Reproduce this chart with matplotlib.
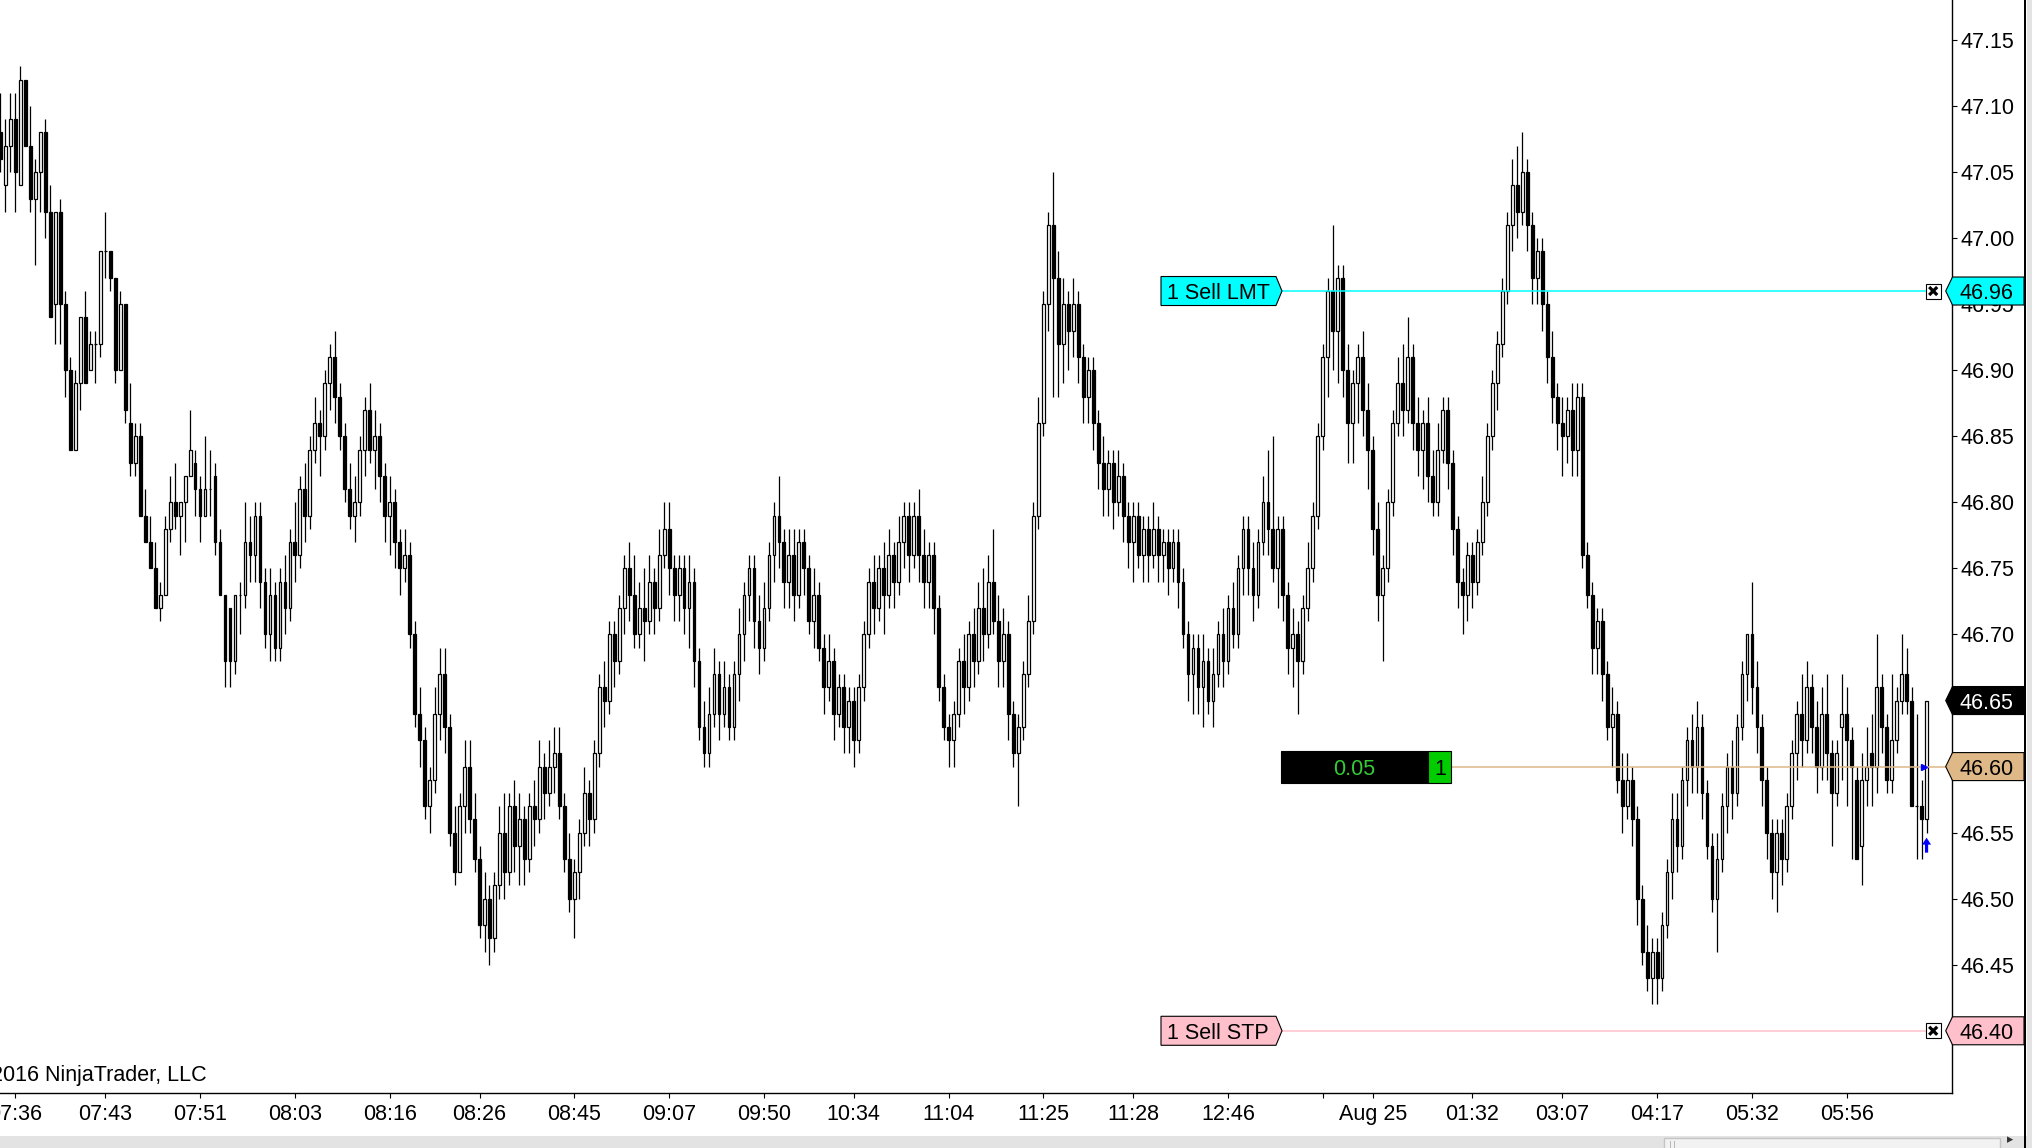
import numpy as np
import matplotlib
matplotlib.use('Agg')
import matplotlib.pyplot as plt
from matplotlib.patches import Polygon, Rectangle
from matplotlib.transforms import blended_transform_factory

plt.rcParams['font.family'] = ['Liberation Sans', 'DejaVu Sans']

# OHLC in cents above 46.00, one entry per bar
BASE = 46.00
open_c = [
    108, 104, 107, 109, 104, 112, 107, 103, 105, 108, 102, 95, 102, 95, 90, 84, 89, 94, 90, 92,
    92, 99, 99, 97, 90, 95, 86, 83, 85, 79, 77, 75, 72, 73, 78, 80, 79, 80, 82, 83,
    81, 79, 81, 82, 77, 73, 72, 68, 73, 73, 77, 76, 79, 74, 70, 73, 69, 74, 72, 77,
    76, 81, 79, 84, 86, 85, 89, 91, 88, 85, 81, 79, 80, 84, 87, 84, 85, 82, 79, 80,
    77, 75, 76, 70, 64, 62, 57, 59, 64, 67, 63, 55, 52, 57, 60, 56, 53, 48, 50, 47,
    51, 55, 52, 57, 54, 56, 53, 57, 56, 60, 58, 60, 61, 57, 53, 50, 52, 55, 58, 56,
    61, 66, 65, 70, 68, 72, 75, 73, 70, 72, 71, 74, 72, 76, 78, 75, 73, 75, 72, 74,
    68, 63, 61, 64, 67, 64, 66, 63, 67, 70, 73, 75, 71, 69, 72, 76, 79, 77, 74, 76,
    73, 77, 75, 71, 73, 69, 66, 68, 64, 66, 63, 65, 62, 66, 70, 74, 72, 75, 73, 76,
    74, 77, 79, 76, 79, 76, 74, 76, 72, 66, 63, 62, 64, 68, 66, 70, 68, 72, 70, 74,
    71, 68, 70, 64, 61, 63, 67, 71, 79, 86, 95, 101, 97, 92, 95, 93, 95, 91, 88, 90,
    86, 83, 81, 83, 80, 82, 79, 77, 79, 76, 78, 76, 78, 76, 77, 75, 77, 74, 70, 67,
    69, 66, 68, 65, 67, 70, 68, 72, 70, 75, 78, 75, 73, 77, 80, 78, 75, 78, 73, 69,
    70, 68, 72, 75, 79, 85, 91, 96, 93, 97, 90, 86, 89, 91, 87, 84, 78, 73, 75, 80,
    86, 89, 87, 91, 86, 84, 86, 82, 80, 84, 87, 83, 78, 74, 73, 76, 74, 77, 80, 85,
    89, 92, 96, 101, 104, 102, 105, 101, 97, 99, 95, 91, 88, 86, 85, 87, 84, 88, 76, 73,
    69, 71, 67, 63, 64, 59, 57, 59, 56, 50, 46, 44, 46, 44, 48, 52, 56, 54, 59, 62,
    60, 63, 58, 54, 50, 53, 57, 60, 58, 63, 67, 70, 66, 63, 59, 55, 52, 55, 53, 57,
    61, 64, 62, 66, 63, 60, 64, 61, 58, 63, 64, 62, 59, 54, 59, 61, 60, 66, 63, 59,
    62, 65, 67, 65, 57, 57, 56,
]
high_c = [
    111, 109, 111, 111, 113, 112, 110, 106, 108, 109, 104, 102, 103, 96, 91, 90, 94, 96, 93, 93,
    99, 102, 99, 97, 96, 95, 89, 86, 86, 81, 79, 77, 74, 79, 82, 83, 80, 82, 87, 84,
    82, 85, 84, 83, 78, 73, 72, 73, 74, 80, 79, 80, 80, 75, 75, 74, 75, 76, 78, 80,
    82, 83, 85, 88, 87, 90, 92, 93, 89, 86, 83, 82, 85, 88, 89, 87, 86, 83, 82, 81,
    78, 78, 77, 71, 66, 63, 60, 66, 69, 69, 64, 57, 58, 62, 62, 58, 54, 52, 51, 52,
    57, 58, 58, 59, 58, 57, 58, 59, 62, 61, 62, 63, 63, 58, 55, 53, 56, 60, 59, 62,
    67, 68, 71, 71, 73, 76, 77, 76, 74, 75, 76, 75, 78, 80, 80, 76, 76, 76, 76, 75,
    69, 65, 66, 69, 68, 68, 67, 68, 72, 74, 76, 76, 73, 74, 77, 80, 82, 78, 78, 78,
    78, 78, 76, 75, 74, 70, 70, 69, 67, 67, 66, 66, 67, 71, 75, 76, 76, 77, 78, 77,
    79, 80, 80, 80, 81, 78, 77, 77, 73, 67, 64, 65, 69, 70, 71, 72, 74, 75, 76, 78,
    73, 72, 71, 65, 64, 68, 73, 80, 88, 96, 102, 105, 99, 97, 96, 97, 96, 92, 91, 91,
    87, 85, 84, 84, 84, 83, 80, 80, 80, 79, 79, 80, 79, 78, 78, 78, 78, 75, 71, 70,
    70, 70, 69, 69, 71, 72, 73, 74, 76, 79, 79, 77, 78, 82, 84, 85, 79, 79, 74, 72,
    71, 73, 77, 80, 86, 92, 97, 101, 98, 98, 92, 90, 92, 93, 89, 85, 80, 76, 81, 87,
    91, 92, 94, 92, 88, 87, 88, 84, 86, 88, 88, 84, 79, 75, 77, 77, 78, 82, 86, 90,
    93, 97, 102, 106, 107, 108, 106, 102, 100, 100, 96, 93, 89, 88, 88, 89, 89, 89, 77, 74,
    72, 72, 68, 66, 65, 61, 61, 60, 57, 51, 48, 47, 47, 49, 53, 58, 58, 60, 63, 64,
    65, 64, 59, 55, 55, 58, 61, 62, 64, 68, 70, 74, 68, 64, 60, 56, 56, 56, 58, 62,
    65, 67, 68, 67, 65, 66, 67, 62, 62, 67, 66, 63, 60, 61, 63, 64, 70, 67, 64, 67,
    66, 70, 69, 66, 64, 59, 65,
]
low_c = [
    105, 102, 105, 102, 104, 107, 102, 98, 102, 100, 94, 92, 92, 88, 84, 84, 87, 89, 90, 89,
    91, 97, 96, 89, 90, 86, 82, 82, 79, 77, 75, 72, 71, 73, 77, 78, 76, 77, 82, 79,
    77, 79, 79, 76, 73, 66, 66, 67, 70, 72, 74, 74, 72, 69, 68, 68, 68, 70, 71, 74,
    75, 77, 78, 83, 82, 84, 87, 86, 84, 80, 78, 77, 79, 82, 83, 81, 80, 77, 76, 75,
    73, 74, 69, 63, 60, 56, 55, 58, 62, 61, 54, 51, 52, 55, 55, 52, 47, 46, 45, 46,
    50, 50, 51, 52, 51, 51, 52, 54, 55, 56, 57, 58, 56, 52, 49, 47, 50, 54, 54, 55,
    60, 63, 64, 66, 67, 70, 71, 69, 69, 68, 70, 70, 71, 75, 73, 71, 71, 70, 69, 66,
    62, 60, 60, 63, 62, 63, 62, 62, 65, 68, 71, 69, 67, 68, 71, 74, 75, 72, 72, 71,
    72, 73, 70, 69, 68, 64, 65, 62, 63, 61, 61, 60, 61, 65, 69, 70, 71, 70, 72, 72,
    73, 75, 74, 75, 74, 72, 72, 70, 65, 62, 60, 60, 63, 64, 65, 66, 67, 68, 69, 70,
    66, 66, 62, 60, 57, 62, 66, 70, 78, 85, 93, 88, 88, 89, 90, 91, 89, 86, 86, 84,
    81, 79, 79, 78, 79, 77, 75, 74, 75, 74, 74, 75, 74, 74, 73, 74, 72, 69, 65, 64,
    64, 63, 64, 63, 66, 66, 67, 69, 69, 73, 73, 71, 72, 76, 76, 74, 72, 71, 67, 66,
    64, 67, 71, 74, 78, 84, 88, 90, 89, 88, 83, 83, 86, 85, 81, 76, 71, 68, 74, 79,
    85, 85, 86, 84, 82, 81, 80, 79, 79, 83, 81, 76, 72, 70, 71, 72, 73, 76, 79, 84,
    87, 91, 95, 99, 100, 101, 99, 95, 95, 93, 89, 86, 84, 82, 83, 82, 82, 75, 72, 67,
    67, 65, 62, 60, 58, 55, 56, 54, 48, 45, 43, 42, 42, 43, 47, 50, 52, 53, 57, 58,
    58, 56, 53, 49, 46, 52, 55, 56, 57, 62, 65, 64, 61, 57, 53, 50, 49, 51, 52, 56,
    59, 60, 61, 61, 58, 59, 59, 54, 57, 59, 57, 53, 53, 51, 57, 57, 58, 61, 58, 58,
    61, 64, 64, 57, 53, 53, 55,
]
close_c = [
    106, 107, 109, 105, 112, 107, 103, 105, 108, 102, 94, 102, 95, 90, 84, 89, 94, 89, 92, 92,
    99, 99, 97, 90, 95, 87, 83, 85, 79, 77, 75, 72, 73, 78, 80, 79, 80, 82, 84, 81,
    79, 81, 81, 77, 73, 68, 68, 73, 73, 77, 76, 79, 74, 70, 73, 69, 74, 72, 77, 76,
    81, 79, 84, 86, 85, 89, 91, 88, 85, 81, 79, 80, 84, 87, 84, 85, 82, 79, 80, 77,
    75, 76, 70, 64, 62, 57, 59, 64, 67, 63, 55, 52, 57, 60, 56, 53, 48, 50, 47, 51,
    55, 52, 57, 54, 56, 53, 57, 56, 60, 58, 60, 61, 57, 53, 50, 52, 55, 58, 56, 61,
    66, 65, 70, 68, 72, 75, 73, 70, 72, 71, 74, 72, 76, 78, 75, 73, 75, 72, 74, 68,
    63, 61, 64, 67, 64, 66, 63, 67, 70, 73, 75, 71, 69, 72, 76, 79, 77, 74, 76, 73,
    77, 75, 71, 73, 69, 66, 68, 64, 66, 63, 65, 62, 66, 70, 74, 72, 75, 73, 76, 74,
    77, 79, 76, 79, 76, 74, 76, 72, 66, 63, 62, 64, 68, 66, 70, 68, 72, 70, 74, 71,
    68, 70, 64, 61, 63, 67, 71, 79, 86, 95, 101, 97, 92, 95, 93, 95, 91, 88, 90, 86,
    83, 81, 83, 80, 82, 79, 77, 79, 76, 78, 76, 78, 76, 77, 75, 77, 74, 70, 67, 69,
    66, 68, 65, 67, 70, 68, 72, 70, 75, 78, 75, 73, 77, 80, 78, 75, 78, 73, 69, 70,
    68, 72, 75, 79, 85, 91, 96, 93, 97, 90, 86, 89, 91, 87, 84, 78, 73, 75, 80, 86,
    89, 87, 91, 86, 84, 86, 82, 80, 84, 87, 83, 78, 74, 73, 76, 74, 77, 80, 85, 89,
    92, 96, 101, 104, 102, 105, 101, 97, 99, 95, 91, 88, 86, 85, 87, 84, 88, 76, 73, 69,
    71, 67, 63, 64, 59, 57, 59, 56, 50, 46, 44, 46, 44, 48, 52, 56, 54, 59, 62, 60,
    63, 58, 54, 50, 53, 57, 60, 58, 63, 67, 70, 66, 63, 59, 55, 52, 55, 53, 57, 61,
    64, 62, 66, 63, 60, 64, 61, 58, 61, 64, 62, 60, 53, 59, 60, 60, 66, 63, 59, 62,
    65, 67, 65, 57, 57, 56, 65,
]

# time axis: bar index of each tick and its label
tick_bars = [3, 21, 40, 59, 78, 96, 115, 134, 153, 171, 190, 209, 227, 246, 265, 275, 295, 313, 332, 351, 370]
tick_labels = ['07:36', '07:43', '07:51', '08:03', '08:16', '08:26', '08:45', '09:07', '09:50', '10:34',
               '11:04', '11:25', '11:28', '12:46', '', 'Aug 25', '01:32', '03:07', '04:17', '05:32', '05:56']
price_ticks = [46.40, 46.45, 46.50, 46.55, 46.60, 46.65, 46.70, 46.75, 46.80, 46.85, 46.90, 46.95, 47.00, 47.05, 47.10, 47.15]

# orders / position
limit_price = 46.96
stop_price = 46.40
entry_price = 46.60
last_price = 46.65
pnl_text = '0.05'
qty_text = '1'

o = BASE + np.array(open_c) / 100
c = BASE + np.array(close_c) / 100
hi = np.maximum(BASE + np.array(high_c) / 100, np.maximum(o, c))
lo = np.minimum(BASE + np.array(low_c) / 100, np.minimum(o, c))
x = np.arange(len(o))

W, H = 2033, 1148
PLOT_R = 1952.5
PLOT_B = 1093
FS = 15.5

fig = plt.figure(figsize=(W / 100, H / 100), dpi=100)
fig.patch.set_facecolor('white')
ax = fig.add_axes([0, 1 - PLOT_B / H, PLOT_R / W, PLOT_B / H])
ax.set_facecolor('white')

ymin, ymax = 46.3529, 47.1803
xmin, xmax = -0.1, 391.2
ax.set_ylim(ymin, ymax)
ax.set_xlim(xmin, xmax)
PX = (ymax - ymin) / PLOT_B  # price per pixel
BX = (xmax - xmin) / PLOT_R  # bars per pixel


def fx(p):
    return p / PLOT_R


# candles
ax.vlines(x, lo, hi, color='black', lw=0.9, zorder=2)
up = c > o
dn = c < o
eq = c == o
bw = 0.56
ax.bar(x[up], (c - o)[up], bottom=o[up], width=bw, facecolor='white', edgecolor='black', lw=0.9, zorder=3)
ax.bar(x[dn], (o - c)[dn], bottom=c[dn], width=bw, facecolor='black', edgecolor='black', lw=0.9, zorder=3)
ax.hlines(c[eq], x[eq] - bw / 2, x[eq] + bw / 2, color='black', lw=0.9, zorder=3)

# axes styling
for s in ['top', 'left']:
    ax.spines[s].set_visible(False)
for s in ['right', 'bottom']:
    ax.spines[s].set_linewidth(1.0)
ax.yaxis.tick_right()
ax.set_yticks(price_ticks)
ax.set_yticklabels(['%.2f' % p for p in price_ticks])
ax.set_xticks(tick_bars)
ax.set_xticklabels(tick_labels)
ax.tick_params(axis='y', direction='out', length=3.6, width=0.8, pad=2.2, labelsize=FS)
ax.tick_params(axis='x', direction='out', length=3.6, width=0.8, pad=4.5, labelsize=FS)

trans = blended_transform_factory(ax.transAxes, ax.transData)


def price_tag(price, text, face, txt):
    h = 14 * PX
    verts = [(fx(1945.7), price), (fx(1952.5), price + h), (fx(2024), price + h),
             (fx(2024), price - h), (fx(1952.5), price - h)]
    ax.add_patch(Polygon(verts, closed=True, transform=trans, facecolor=face, edgecolor='black',
                         lw=0.8, clip_on=False, zorder=6))
    ax.text(fx(1960), price, text, transform=trans, ha='left', va='center_baseline', fontsize=FS,
            color=txt, zorder=7, clip_on=False)


def order_label(price, text, face):
    h = 14.5 * PX
    verts = [(fx(1161), price + h), (fx(1276), price + h), (fx(1282), price),
             (fx(1276), price - h), (fx(1161), price - h)]
    ax.add_patch(Polygon(verts, closed=True, transform=trans, facecolor=face, edgecolor='black',
                         lw=0.8, zorder=6))
    ax.text(fx(1218), price, text, transform=trans, ha='center', va='center_baseline', fontsize=FS,
            color='black', zorder=7)


def close_box(price):
    s = 15 * PX
    x0 = fx(1925.7)
    ax.add_patch(Rectangle((x0, price - s / 2), fx(15), s, transform=trans, facecolor='white',
                           edgecolor='black', lw=0.8, zorder=6))
    ax.plot([x0 + fx(3.5), x0 + fx(11.5)], [price + 4 * PX, price - 4 * PX], transform=trans,
            color='black', lw=2.3, zorder=7, solid_capstyle='butt')
    ax.plot([x0 + fx(3.5), x0 + fx(11.5)], [price - 4 * PX, price + 4 * PX], transform=trans,
            color='black', lw=2.3, zorder=7, solid_capstyle='butt')


# limit order
ax.plot([fx(1282), fx(1925.7)], [limit_price, limit_price], transform=trans, color='#00ffff', lw=1.1, zorder=5)
order_label(limit_price, '1 Sell LMT', '#00ffff')
close_box(limit_price)
price_tag(limit_price, '%.2f' % limit_price, '#00ffff', 'black')

# stop order
ax.plot([fx(1282), fx(1925.7)], [stop_price, stop_price], transform=trans, color='#ffc0cb', lw=1.1, zorder=5)
order_label(stop_price, '1 Sell STP', '#ffc0cb')
close_box(stop_price)
price_tag(stop_price, '%.2f' % stop_price, '#ffc0cb', 'black')

# position line
ph = 16 * PX
ax.plot([fx(1451), fx(1946)], [entry_price, entry_price], transform=trans, color='#deb887', lw=1.1, zorder=5)
ax.add_patch(Rectangle((fx(1281), entry_price - ph), fx(1428 - 1281), 2 * ph, transform=trans,
                       facecolor='black', edgecolor='black', lw=0.8, zorder=6))
ax.add_patch(Rectangle((fx(1428), entry_price - ph), fx(1451 - 1428), 2 * ph, transform=trans,
                       facecolor='#00cc00', edgecolor='black', lw=0.8, zorder=6))
ax.text(fx(1354), entry_price, pnl_text, transform=trans, ha='center', va='center_baseline',
        fontsize=FS, color='#33cc33', zorder=7)
ax.text(fx(1440), entry_price, qty_text, transform=trans, ha='center', va='center_baseline',
        fontsize=FS, color='black', zorder=7)
price_tag(entry_price, '%.2f' % entry_price, '#deb887', 'black')

# last price
price_tag(last_price, '%.2f' % last_price, 'black', 'white')

# execution markers
ax.plot([x[-1] - 0.6], [entry_price], marker='>', color='#0000ff', markersize=5, zorder=8, clip_on=False)
ax0 = x[-1]
a_top = lo[-1] - 5 * PX
arrow = [(0, 0), (-4.5, -7), (-1.6, -7), (-1.6, -15), (1.6, -15), (1.6, -7), (4.5, -7)]
ax.add_patch(Polygon([(ax0 + dx * BX, a_top + dy * PX) for dx, dy in arrow], closed=True,
                     facecolor='#0000ff', edgecolor='none', zorder=8))

# copyright
ax.text(fx(207), (PLOT_B - 1073) / PLOT_B, '\u00a9 2016 NinjaTrader, LLC', transform=ax.transAxes,
        ha='right', va='center_baseline', fontsize=FS, color='black')


# window chrome (pixel based)
def frect(x0, y0, x1, y1, **kw):
    fig.patches.append(Rectangle((x0 / W, 1 - y1 / H), (x1 - x0) / W, (y1 - y0) / H,
                                 transform=fig.transFigure, figure=fig, **kw))


frect(0, 1136, W, H, facecolor='#e3e3e3', edgecolor='none')
frect(1664, 1138, 2000, H + 2, facecolor='#f2f2f2', edgecolor='#c4c4c4', lw=1)
frect(1670.5, 1141, 1671.5, H, facecolor='#b8b8b8', edgecolor='none')
frect(1674.5, 1141, 1675.5, H, facecolor='#b8b8b8', edgecolor='none')
frect(2027, 0, W, H, facecolor='#e3e3e3', edgecolor='none')
frect(2024, 0, 2026.5, H, facecolor='black', edgecolor='none')
fig.text(2010 / W, 1 - 1146 / H, '\u25b8', fontsize=9, color='#333333', ha='center', va='bottom',
         family='DejaVu Sans')

fig.savefig('out.png', dpi=100, facecolor='white')
